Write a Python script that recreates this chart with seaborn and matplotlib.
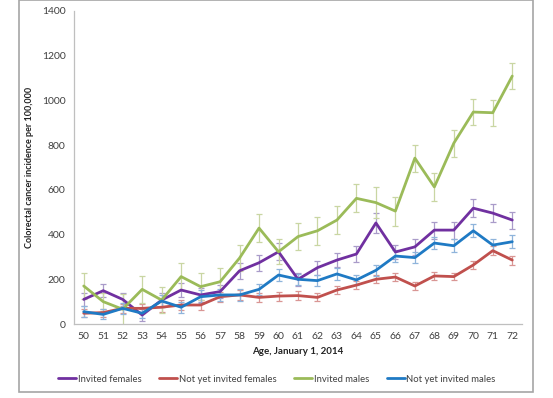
import matplotlib
matplotlib.use("Agg")
import matplotlib.pyplot as plt
import seaborn as sns
import pandas as pd
import numpy as np
from matplotlib.patches import Rectangle
from matplotlib.lines import Line2D

ages = list(range(50, 73))
invited_females = [110, 149, 110, 40, 107, 152, 130, 145, 238, 274, 323, 200, 252, 286, 313, 452, 322, 345, 420, 420, 518, 496, 465]
invited_females_err = [30, 30, 30, 25, 30, 32, 30, 30, 35, 35, 38, 30, 32, 33, 35, 45, 33, 35, 38, 38, 40, 40, 38]
not_inv_females = [48, 51, 70, 70, 75, 85, 85, 122, 130, 119, 125, 127, 119, 152, 174, 200, 210, 170, 215, 212, 264, 328, 286]
not_inv_females_err = [18, 18, 20, 20, 22, 22, 22, 22, 22, 20, 20, 20, 18, 18, 18, 18, 18, 16, 16, 16, 18, 20, 20]
invited_males = [170, 100, 66, 155, 107, 212, 167, 189, 295, 429, 323, 391, 417, 465, 562, 543, 505, 742, 613, 809, 948, 945, 1109]
invited_males_err = [60, 40, 70, 60, 60, 62, 60, 60, 60, 62, 55, 60, 62, 62, 62, 68, 65, 60, 62, 60, 58, 58, 58]
not_inv_males = [55, 43, 70, 48, 103, 75, 122, 130, 130, 155, 219, 200, 194, 224, 197, 240, 304, 297, 362, 350, 417, 353, 368]
not_inv_males_err = [25, 22, 25, 22, 28, 25, 28, 28, 25, 25, 28, 25, 25, 25, 22, 25, 25, 25, 28, 28, 30, 28, 28]

series_names = ["Invited females", "Not yet invited females", "Invited males", "Not yet invited males"]
series_vals = [invited_females, not_inv_females, invited_males, not_inv_males]
series_errs = [invited_females_err, not_inv_females_err, invited_males_err, not_inv_males_err]
colors = ["#7030A0", "#C0504D", "#9BBB59", "#1F7AC4"]
err_colors = ["#A99BC9", "#D99694", "#C9D6A3", "#8FB4DB"]

rows = []
for name, vals, errs in zip(series_names, series_vals, series_errs):
    for i, (a, v, e) in enumerate(zip(ages, vals, errs)):
        rows.append({"pos": i, "age": a, "value": v, "err": e, "series": name})
df = pd.DataFrame(rows)

sns.set_theme(style="white")
plt.rcParams["font.family"] = ["Lato", "DejaVu Sans"]

fig = plt.figure(figsize=(5.53, 3.98), dpi=100)
ax = fig.add_axes([74/553, 1 - 324/398, (522-74)/553, (324-11)/398])

for name, ec in zip(series_names, err_colors):
    sub = df[df["series"] == name]
    ax.errorbar(sub["pos"], sub["value"], yerr=sub["err"], fmt="none",
                ecolor=ec, elinewidth=0.9, capsize=2, capthick=0.9, zorder=2)

sns.lineplot(data=df, x="pos", y="value", hue="series", hue_order=series_names,
             palette=colors, linewidth=2, ax=ax, legend=False, zorder=3)

ax.set_xlim(-0.5, 22.5)
ax.set_ylim(0, 1400)
ax.set_yticks(range(0, 1401, 200))
ax.set_xticks(range(len(ages)))
ax.set_xticklabels([str(a) for a in ages])
ax.tick_params(axis="both", length=0, labelsize=7.5, colors="#404040", pad=6)
for s in ["top", "right"]:
    ax.spines[s].set_visible(False)
for s in ["left", "bottom"]:
    ax.spines[s].set_color("#BFBFBF")
    ax.spines[s].set_linewidth(0.9)
ax.set_xlabel("Age, January 1, 2014", fontsize=7, fontweight="bold", color="#222222", labelpad=4)
ax.set_ylabel("Colorectal cancer incidence per 100,000", fontsize=6.5, fontweight="bold",
              color="#222222", labelpad=6)
ax.grid(False)

handles = [Line2D([0], [0], color=c, lw=2) for c in colors]
fig.legend(handles, series_names, loc="center", bbox_to_anchor=(277/553, 1 - 379/398),
           ncol=4, frameon=False, fontsize=6.8, handlelength=1.9, handletextpad=0.15,
           columnspacing=1.9, labelcolor="#404040")

fig.patches.append(Rectangle((19/553, 1 - 392/398), (533-19)/553, 392/398,
                             transform=fig.transFigure, fill=False,
                             edgecolor="#A6A6A6", linewidth=1.2))

fig.savefig("out.png", dpi=100)
